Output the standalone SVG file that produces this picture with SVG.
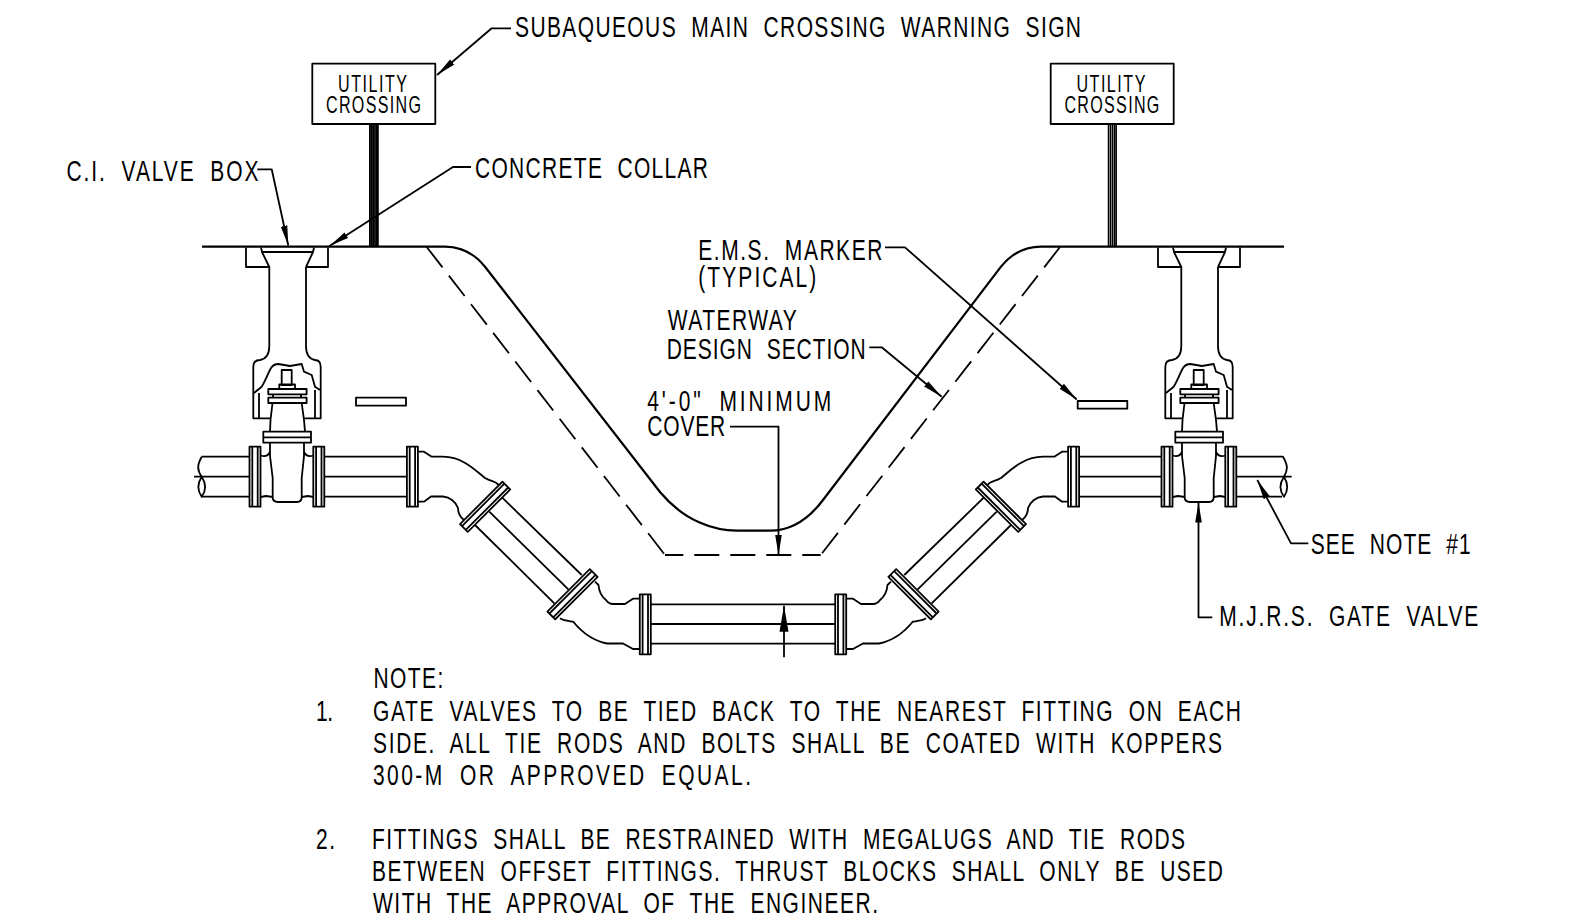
<svg xmlns="http://www.w3.org/2000/svg" xmlns:xlink="http://www.w3.org/1999/xlink" width="1578" height="923" viewBox="0 0 1578 923">
<style>
text{font-family:"Liberation Sans",Arial,sans-serif;fill:#000;word-spacing:10px;font-size:30px}
.s{font-size:23px;word-spacing:0}
path,line,rect{stroke:#000;stroke-width:1.8;fill:none;stroke-linejoin:round}
.w{fill:#fff}
.g{stroke-width:2.2}
.p{stroke-width:1.5}
.dash{stroke-dasharray:25.8 10.4}
.dashb{stroke-dasharray:25 11;stroke-dashoffset:6.7}
</style>
<defs>
<marker id="arr" markerUnits="userSpaceOnUse" markerWidth="22" markerHeight="10" refX="20" refY="4" orient="auto"><path d="M0,0.7 L20,4 L0,7.3 Z" style="fill:#000;stroke:none"/></marker>
<marker id="arrb" markerUnits="userSpaceOnUse" markerWidth="28" markerHeight="12" refX="26" refY="5" orient="auto"><path d="M0,0.5 L26,5 L0,9.5 Z" style="fill:#000;stroke:none"/></marker>
<g id="fl"><rect class="w" x="-5.5" y="-30" width="11" height="60"/><line x1="-2.7" y1="-30" x2="-2.7" y2="30"/><line x1="2.7" y1="-30" x2="2.7" y2="30"/></g>
<g id="valve">
<path d="M246,247.5 V267 H269 M306,267 H328 V247.5"/>
<path d="M261,247.5 L262,252 H313 L314,247.5 M262,252 L269.3,267 V346 C269.3,355 266,359 260,360 C255,360 253.3,363 253.3,367 V418.3 H271 M306,267 L313,252 M306,267 V346 C306,355 309,359 315,360 C318.7,360 320.7,363 320.7,367 V418.3 H304"/>
<path d="M259,393 V418.3 M315,390 V418.3"/>
<path d="M254,393 L261.7,386.7 C266,380 268,373 271,368 C273,365 276,364 278.3,364 L290,366 L301.7,364 L304,371.7 L311.7,375 L315,386.7 L320,390"/>
<rect x="281.7" y="370" width="10" height="15"/>
<rect x="279.3" y="384.5" width="15.7" height="4.7"/>
<rect x="268.3" y="389" width="38.3" height="5.3"/>
<rect x="268.3" y="397.7" width="38.3" height="5.3"/>
<path d="M273,394.3 V397.7 M301,394.3 V397.7"/>
<path d="M272.5,403 L270.5,420 L270,431.7 M301.7,403 L304,420 L305,431.7"/>
<rect x="263.3" y="431.7" width="47.7" height="11"/>
<line x1="263.3" y1="437.3" x2="311" y2="437.3"/>
<path d="M270,442.7 V456 L272.7,478 V497 C272.7,501 275,502 278,502 H297 C301,502 301.7,500 301.7,497 V478 L304,456 V442.7"/>
<path d="M260.7,455.5 C265,457 268,456 270,452 M313.3,455.5 C309,457 306,456 304,452"/>
<path d="M260.7,497 L266,496 L272.7,497 M313.3,497 L308,496 L301.7,497"/>
<use href="#fl" xlink:href="#fl" transform="translate(255,476.7)"/>
<use href="#fl" xlink:href="#fl" transform="translate(318.8,476.7)"/>
</g>
<g id="leg">
<path d="M324.3,456.7 H407 M324.3,476.7 H407 M324.3,496.7 H407"/>
<path d="M418,451.7 H424 L431.7,456.7 H443 C463,457 475,470 485,478 C492,482 496,481 498.5,485"/>
<path d="M418,501.7 H424 L431,496.5 H443 C450,497 456,502 458,508 C458,514 460,517 464,520"/>
<path d="M502.3,497.7 L581.7,575 M489.3,511.7 L568.3,589.3 M475,525 L554.3,603.3"/>
<path d="M595,581.7 L598.5,585 C599,592 601,596 606,600 C608,603 610,604 613,604 H625 L633,598.7 H640"/>
<path d="M560,618.3 C564,621 569,621 573.3,621.7 C580,630 590,640 607,643.5 H623 L633,649 H640"/>
<use href="#fl" xlink:href="#fl" transform="translate(412.4,476.7)"/>
<use href="#fl" xlink:href="#fl" transform="translate(485.1,506.8) rotate(45)"/>
<use href="#fl" xlink:href="#fl" transform="translate(572.5,594.2) rotate(45)"/>
<use href="#fl" xlink:href="#fl" transform="translate(645.3,624.3)"/>
</g>
</defs>
<rect width="1578" height="923" style="fill:#fff;stroke:none"/>

<g id="ground">
<path class="g" d="M202,246.7 H445 C463,247 475,254 485,266.7 L660,492 C685,522 715,530.7 737,530.7 H770 C790,530.7 808,520 823,500 L1001,266.7 C1011,254 1023,247 1041,246.7 H1284"/>
</g>
<g id="design-section">
<path class="dash" d="M426.7,247 L665,555"/>
<path class="dashb" d="M665,555 H820.7"/>
<path class="dash" d="M1060,247 L820.7,555"/>
</g>

<g id="valve-left"><use href="#valve" xlink:href="#valve"/></g>
<g id="valve-right"><use href="#valve" xlink:href="#valve" transform="translate(912,0)"/></g>

<g id="pipe-left">
<path d="M201.7,456.7 H249.3 M194,476.7 H249.3 M201.7,496.7 H249.3"/>
<path d="M201.7,456.7 C197,465 197,470 201.7,476.7 C206.5,484 206.5,490 201.7,496.7 C197,490 197,484 201.7,476.7"/>
<use href="#leg" xlink:href="#leg"/>
</g>
<g id="pipe-right">
<use href="#leg" xlink:href="#leg" transform="matrix(-1 0 0 1 1486 0)"/>
<path d="M1236,456.7 H1283 C1288,465 1288,470 1284,476.7 M1236,476.7 H1291.7 M1236,496.7 H1282"/>
<path d="M1284,476.7 C1279,484 1279,490 1284,496.7 C1288.5,490 1288.5,484 1284,476.7"/>
</g>
<g id="pipe-bottom">
<path d="M650.7,604.3 H835.7 M650.7,624 H835.7 M650.7,643.7 H835.7"/>
</g>

<g id="marker-left"><rect x="356" y="397.7" width="50" height="8"/></g>
<g id="marker-right"><rect x="1077.7" y="401" width="49.6" height="7.7"/></g>

<g id="sign-left">
<path style="stroke-width:1.6" d="M369.8,124 V247 M371.5,124 V247 M373.2,124 V247 M374.9,124 V247 M376.6,124 V247 M378,124 V247"/>
<rect class="w" x="312.3" y="63.7" width="123" height="60.3"/>
<text class="s" transform="translate(338,91.7) scale(.7,1)" textLength="98.6">UTILITY</text>
<text class="s" transform="translate(326,113) scale(.7,1)" textLength="135.7">CROSSING</text>
</g>
<g id="sign-right">
<path class="p" d="M1108.5,124 V247 M1110.5,124 V247 M1112.5,124 V247 M1114.5,124 V247 M1116.2,124 V247"/>
<rect class="w" x="1050.7" y="63.7" width="123" height="60.3"/>
<text class="s" transform="translate(1076.4,91.7) scale(.7,1)" textLength="98.6">UTILITY</text>
<text class="s" transform="translate(1064.4,113) scale(.7,1)" textLength="135.7">CROSSING</text>
</g>

<g id="connectors">
<path d="M511,28.3 H491.7 L437,75" marker-end="url(#arr)"/>
<path d="M471,167 H453 L329.5,246" marker-end="url(#arr)"/>
<path d="M257.3,169.3 H271.7 L288.3,245.5" marker-end="url(#arr)"/>
<path d="M885,247.3 H905 L1076.7,399.5" marker-end="url(#arr)"/>
<path d="M869.3,347.3 H881.7 L941.7,396.7" marker-end="url(#arr)"/>
<path d="M730,426.7 H778.5 V555" marker-end="url(#arr)"/>
<path d="M1308.3,543.3 H1291 L1257.3,480" marker-end="url(#arr)"/>
<path d="M1212.3,617.3 H1198.5 V502.5" marker-end="url(#arr)"/>
<path d="M784,657.3 V605.7" marker-end="url(#arrb)"/>
</g>

<g id="labels">
<text transform="translate(515,37) scale(.7,1)" textLength="808.6">SUBAQUEOUS MAIN CROSSING WARNING SIGN</text>
<text transform="translate(475,177.5) scale(.7,1)" textLength="332.9">CONCRETE COLLAR</text>
<text transform="translate(66.5,180.5) scale(.7,1)" textLength="274.3">C.I. VALVE BOX</text>
<text transform="translate(698.3,260) scale(.7,1)" textLength="262.9">E.M.S. MARKER</text>
<text transform="translate(698.3,287) scale(.7,1)" textLength="168.6">(TYPICAL)</text>
<text transform="translate(667.7,330) scale(.7,1)" textLength="184.3">WATERWAY</text>
<text transform="translate(666.7,358.5) scale(.7,1)" textLength="284.3">DESIGN SECTION</text>
<text transform="translate(647.3,410.5) scale(.7,1)" textLength="262.9">4'-0" MINIMUM</text>
<text transform="translate(647.3,436) scale(.7,1)" textLength="111.4">COVER</text>
<text transform="translate(1310.7,554) scale(.7,1)" textLength="228.6">SEE NOTE #1</text>
<text transform="translate(1219.3,626) scale(.7,1)" textLength="370">M.J.R.S. GATE VALVE</text>
</g>
<g id="notes">
<text transform="translate(373.4,688) scale(.7,1)" textLength="100">NOTE:</text>
<text transform="translate(316,720.5) scale(.7,1)" textLength="24.3">1.</text>
<text transform="translate(373,720.5) scale(.7,1)" textLength="1240">GATE VALVES TO BE TIED BACK TO THE NEAREST FITTING ON EACH</text>
<text transform="translate(373,752.7) scale(.7,1)" textLength="1212.9">SIDE. ALL TIE RODS AND BOLTS SHALL BE COATED WITH KOPPERS</text>
<text transform="translate(373,785) scale(.7,1)" textLength="540">300-M OR APPROVED EQUAL.</text>
<text transform="translate(316,848.8) scale(.7,1)" textLength="27.1">2.</text>
<text transform="translate(372,848.8) scale(.7,1)" textLength="1161.4">FITTINGS SHALL BE RESTRAINED WITH MEGALUGS AND TIE RODS</text>
<text transform="translate(372,880.8) scale(.7,1)" textLength="1215.7">BETWEEN OFFSET FITTINGS. THRUST BLOCKS SHALL ONLY BE USED</text>
<text transform="translate(373,913) scale(.7,1)" textLength="721.4">WITH THE APPROVAL OF THE ENGINEER.</text>
</g>
</svg>
